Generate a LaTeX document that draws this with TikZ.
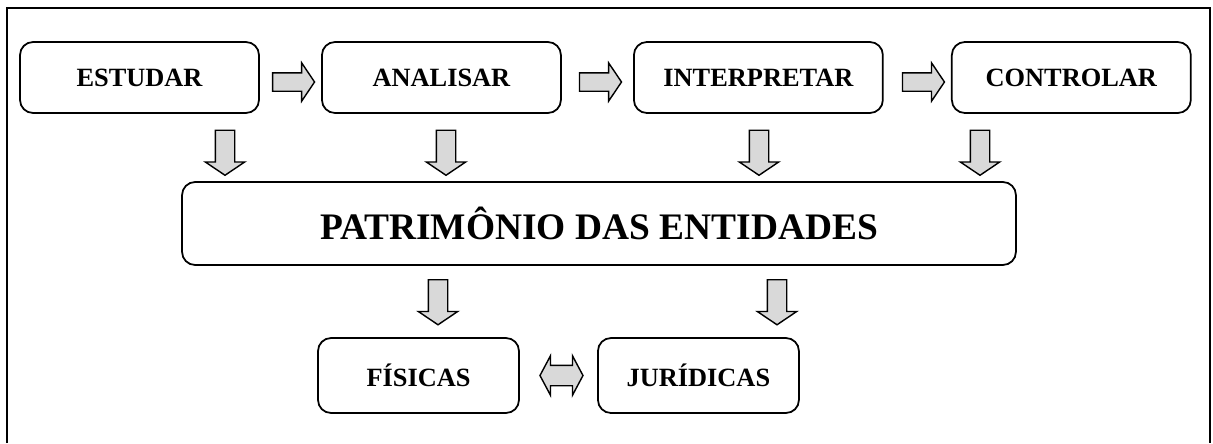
\documentclass[tikz,border=0pt]{standalone}
\usepackage{fontspec}
\setmainfont{Liberation Serif}
\usepackage{tikz}
\usetikzlibrary{positioning,shapes,calc}

\definecolor{arrowgray}{RGB}{217,217,217}

\begin{document}
\begin{tikzpicture}[x=0.02cm, y=-0.02cm, line width=1pt,
    box/.style={draw=black, rounded corners=0.26cm, inner sep=0pt, outer sep=0pt, minimum width=4.78cm, minimum height=1.42cm, font=\bfseries\fontsize{15}{18}\selectfont},
    harrow/.style={single arrow, draw=black, fill=arrowgray, line width=0.8pt, inner xsep=0pt, inner ysep=0.17cm, minimum height=0.84cm, minimum width=0.74cm, single arrow head extend=0.2cm, single arrow tip angle=112},
    varrow/.style={harrow, rotate=-90, inner ysep=0.18cm, minimum height=0.9cm, minimum width=0.76cm},
    darrow/.style={double arrow, draw=black, fill=arrowgray, line width=0.8pt, inner xsep=0pt, inner ysep=0.19cm, minimum height=0.86cm, minimum width=0.76cm, double arrow head extend=0.19cm, double arrow tip angle=124}]
    \useasboundingbox (0,0) rectangle (1213,443);
    \draw[line width=1.1pt] (7,443) -- (7,8) -- (1210,8) -- (1210,443);

    \node[box] (estudar) at (139.5,77.5) {ESTUDAR};
    \node[box, right=1.26cm of estudar] (analisar) {ANALISAR};
    \node[box, minimum width=4.98cm, right=1.46cm of analisar] (interpretar) {INTERPRETAR};
    \node[box, right=1.38cm of interpretar] (controlar) {CONTROLAR};

    \node[box, minimum width=16.68cm, minimum height=1.66cm, font=\bfseries\fontsize{21.3}{25}\selectfont] (patrimonio) at (599,223.5) {PATRIMÔNIO DAS ENTIDADES};

    \node[box, minimum width=4.02cm, minimum height=1.5cm] (fisicas) at (418.5,375.5) {FÍSICAS};
    \node[box, minimum width=4.02cm, minimum height=1.5cm, right=1.58cm of fisicas] (juridicas) {JURÍDICAS};

    % setas entre as etapas
    \node[harrow, yshift=-0.09cm] (estAna) at ($(estudar.east)!0.5!(analisar.west)$) {};
    \node[harrow, yshift=-0.09cm] (anaInt) at ($(analisar.east)!0.5!(interpretar.west)$) {};
    \node[harrow, yshift=-0.09cm, xshift=0.06cm] (intCon) at ($(interpretar.east)!0.5!(controlar.west)$) {};

    % setas para o patrimonio
    \node[varrow] (estPat) at (225,149.5) {};
    \node[varrow] (anaPat) at (446,149.5) {};
    \node[varrow] (intPat) at (759,149.5) {};
    \node[varrow] (conPat) at (980,149.5) {};

    \node[varrow] (patFis) at (438,299) {};
    \node[varrow] (patJur) at (777,299) {};

    \node[darrow, xshift=0.06cm] (fisJur) at ($(fisicas.east)!0.5!(juridicas.west)$) {};

\end{tikzpicture}
\end{document}
